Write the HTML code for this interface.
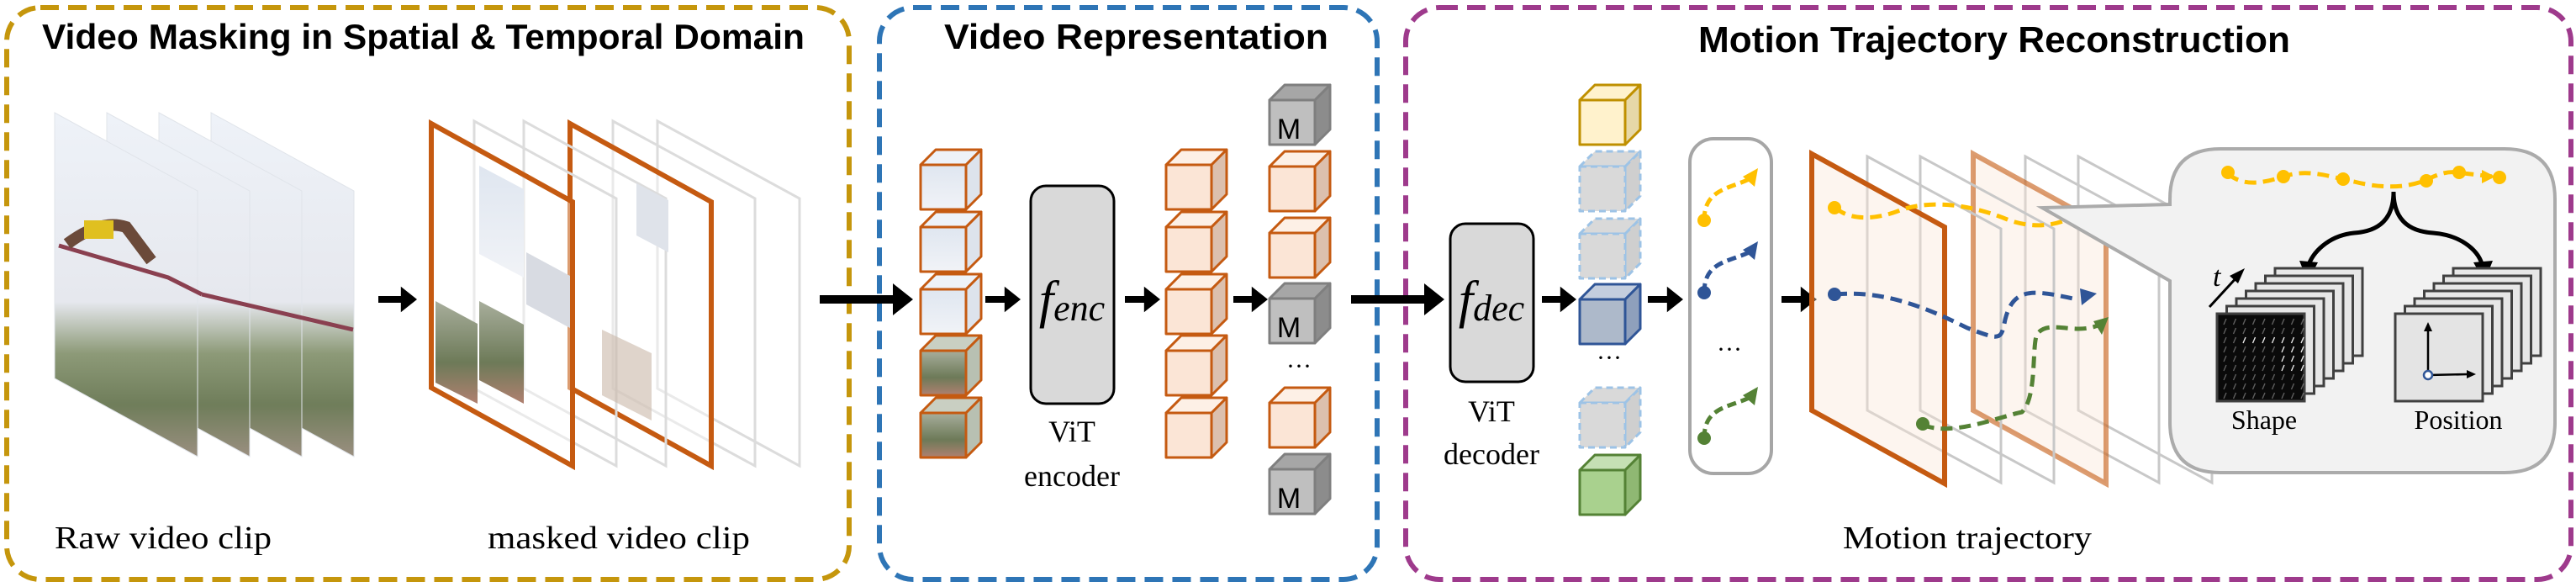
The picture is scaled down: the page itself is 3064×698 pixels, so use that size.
<!DOCTYPE html>
<html><head><meta charset="utf-8">
<style>
html,body{margin:0;padding:0;background:#fff;}
svg{display:block;}
.tt{font-family:"Liberation Sans Narrow","Liberation Sans",sans-serif;font-weight:bold;fill:#000;}
.sf{font-family:"Liberation Serif",serif;fill:#000;}
</style></head>
<body>
<svg id="s" width="3064" height="698" viewBox="0 0 3064 698" xmlns="http://www.w3.org/2000/svg">
<defs>
<linearGradient id="photo" x1="0" y1="0" x2="0" y2="1">
<stop offset="0" stop-color="#eef2f8"/><stop offset="0.55" stop-color="#e6e8ee"/>
<stop offset="0.7" stop-color="#8d9a78"/><stop offset="0.85" stop-color="#6f7d5a"/><stop offset="1" stop-color="#9a8f80"/>
</linearGradient>
<linearGradient id="sky" x1="0" y1="0" x2="0" y2="1"><stop offset="0" stop-color="#dfe6f0"/><stop offset="1" stop-color="#f1f3f7"/></linearGradient>
<linearGradient id="tree" x1="0" y1="0" x2="0" y2="1"><stop offset="0" stop-color="#a8ae9c"/><stop offset="0.6" stop-color="#6d7a58"/><stop offset="1" stop-color="#b08070"/></linearGradient>
</defs>

<!-- panels -->
<rect x="8" y="9" width="1002" height="680" rx="40" fill="none" stroke="#c5960c" stroke-width="6" stroke-dasharray="22,11"/>
<rect x="1046" y="9" width="592" height="680" rx="40" fill="none" stroke="#2e75b6" stroke-width="6" stroke-dasharray="22,11"/>
<rect x="1672" y="9" width="1386" height="680" rx="40" fill="none" stroke="#9e3a8c" stroke-width="6" stroke-dasharray="22,11"/>

<text class="tt" x="50" y="58" font-size="42" textLength="907" lengthAdjust="spacingAndGlyphs">Video Masking in Spatial &amp; Temporal Domain</text>
<text class="tt" x="1123" y="58" font-size="42" textLength="457" lengthAdjust="spacingAndGlyphs">Video Representation</text>
<text class="tt" x="2020" y="62" font-size="44" textLength="704" lengthAdjust="spacingAndGlyphs">Motion Trajectory Reconstruction</text>

<g id="g"></g>

<text class="sf" x="65" y="652" font-size="38" textLength="258" lengthAdjust="spacingAndGlyphs">Raw video clip</text>
<text class="sf" x="580" y="652" font-size="38" textLength="312" lengthAdjust="spacingAndGlyphs">masked video clip</text>
<text class="sf" x="2192" y="652" font-size="38" textLength="296" lengthAdjust="spacingAndGlyphs">Motion trajectory</text>

<text class="sf" x="1275" y="377" font-size="62" font-style="italic" text-anchor="middle">f<tspan font-size="44" dy="4">enc</tspan></text>
<text class="sf" x="1275" y="525" font-size="36" text-anchor="middle">ViT</text>
<text class="sf" x="1275" y="578" font-size="36" text-anchor="middle">encoder</text>
<text class="sf" x="1774" y="377" font-size="62" font-style="italic" text-anchor="middle">f<tspan font-size="44" dy="4">dec</tspan></text>
<text class="sf" x="1774" y="501" font-size="36" text-anchor="middle">ViT</text>
<text class="sf" x="1774" y="552" font-size="36" text-anchor="middle">decoder</text>

<text font-family="Liberation Sans,sans-serif" font-size="34" x="1533" y="165" text-anchor="middle">M</text>
<text font-family="Liberation Sans,sans-serif" font-size="34" x="1533" y="401" text-anchor="middle">M</text>
<text font-family="Liberation Sans,sans-serif" font-size="34" x="1533" y="604" text-anchor="middle">M</text>
<text class="sf" x="1545" y="445" font-size="30" text-anchor="middle">···</text>
<text class="sf" x="1914" y="435" font-size="30" text-anchor="middle">···</text>
<text class="sf" x="2057" y="425" font-size="30" text-anchor="middle">···</text>

<text class="sf" x="2693" y="510" font-size="32" text-anchor="middle">Shape</text>
<text class="sf" x="2924" y="510" font-size="32" text-anchor="middle">Position</text>
<text class="sf" x="2632" y="340" font-size="34" font-style="italic">t</text>
</svg>
<script>
var NS="http://www.w3.org/2000/svg",G=document.getElementById('g');
function el(t,a,p){var e=document.createElementNS(NS,t);for(var k in a)e.setAttribute(k,a[k]);(p||G).appendChild(e);return e;}
function poly(pts,a){a.points=pts.map(function(p){return p.join(',')}).join(' ');return el('polygon',a);}
function frame(xl,w,yt,yr,h,a){return poly([[xl,yt],[xl+w,yr],[xl+w,yr+h],[xl,yt+h]],a);}
function arrow(x1,x2,y,th){th=th||9;el('line',{x1:x1,y1:y,x2:x2-th*1.4,y2:y,stroke:'#000','stroke-width':th});
 poly([[x2-th*2.4,y-th*1.9],[x2,y],[x2-th*2.4,y+th*1.9]],{fill:'#000'});}

// raw frames (back to front)
[251,189,127,65].forEach(function(x,i){
 var p=frame(x,170,134,227,316,{fill:'url(#photo)',stroke:'#e0e4ea','stroke-width':1});
});
// silhouette hints
el('path',{d:'M70 292 L200 330 L240 350',stroke:'#8a4050','stroke-width':5,fill:'none'});
el('path',{d:'M240 350 L420 392',stroke:'#8a4050','stroke-width':5,fill:'none'});
el('path',{d:'M80 290 Q120 260 150 270 L180 310',stroke:'#6b4a3a','stroke-width':14,fill:'none'});
el('rect',{x:100,y:262,width:35,height:22,fill:'#e0c020'});

arrow(450,496,356,8);

// masked frames
[[782,0],[729,0],[678,1],[623,0],[564,0],[513,1]].forEach(function(f){
 if(f[1]) frame(f[0],168,147,240,314,{fill:'#fff','fill-opacity':0.4,stroke:'#c55a11','stroke-width':6});
 else frame(f[0],169,144,236,318,{fill:'none',stroke:'#dcdcdc','stroke-width':3});
});
// some visible patches
poly([[570,197],[623,225],[623,330],[570,302]],{fill:'url(#sky)'});
poly([[570,358],[623,386],[623,480],[570,452]],{fill:'url(#tree)'});
poly([[518,358],[568,385],[568,480],[518,455]],{fill:'url(#tree)'});
poly([[626,300],[678,328],[678,390],[626,362]],{fill:'#d8dbe2'});
poly([[757,218],[795,238],[795,300],[757,280]],{fill:'#dfe3ea'});
poly([[716,392],[775,420],[775,500],[716,470]],{fill:'#c9b7a8','fill-opacity':0.6});

arrow(975,1086,356,10);

function cube(x,y,c){ // total 72x71, d=18
 var d=18,w=54,h=53,s=c.s,sw=3;
 var a={stroke:s,'stroke-width':sw,'stroke-linejoin':'round'};
 if(c.dash)a['stroke-dasharray']='8,5';
 var o=JSON.parse(JSON.stringify(a));
 o.fill=c.top;poly([[x,y+d],[x+d,y],[x+d+w,y],[x+w,y+d]],o);
 o=JSON.parse(JSON.stringify(a));o.fill=c.side;poly([[x+w,y+d],[x+d+w,y],[x+d+w,y+h],[x+w,y+d+h]],o);
 o=JSON.parse(JSON.stringify(a));o.fill=c.front;el('rect',Object.assign({x:x,y:y+d,width:w,height:h},o));
}
var OR={s:'#c55a11',top:'#fdf0e6',side:'#dcc0ae',front:'#fbe5d6'};
var MG={s:'#7f7f7f',top:'#a6a6a6',side:'#8c8c8c',front:'#bfbfbf'};
var PH={s:'#c55a11',top:'#eef2f8',side:'#dde3ec',front:'url(#sky)'};
var PT={s:'#c55a11',top:'#c9cfc2',side:'#b8c0b2',front:'url(#tree)'};
var YE={s:'#bf9000',top:'#fff2cc',side:'#e6d8a8',front:'#fff2cc'};
var DS={s:'#9dc3e6',top:'#d9d9d9',side:'#cfcfcf',front:'#d9d9d9',dash:1};
var BL={s:'#2f5597',top:'#c4cede',side:'#8fa0bc',front:'#adb9ca'};
var GR={s:'#548235',top:'#c5e0b4',side:'#8fb873',front:'#a9d18e'};
var rows=[178,252,326,399,473];
rows.forEach(function(y,i){cube(1095,y,i<3?PH:PT);});
arrow(1172,1214,356,8);
el('rect',{x:1226,y:221,width:99,height:259,rx:18,fill:'#d9d9d9',stroke:'#000','stroke-width':3});
arrow(1338,1380,356,8);
rows.forEach(function(y){cube(1387,y,OR);});
arrow(1467,1508,356,8);
[[101,MG],[180,OR],[259,OR],[337,MG],[461,OR],[540,MG]].forEach(function(r){cube(1510,r[0],r[1]);});
arrow(1607,1718,356,10);
el('rect',{x:1725,y:266,width:99,height:188,rx:18,fill:'#d9d9d9',stroke:'#000','stroke-width':3});
arrow(1834,1875,356,8);
[[101,YE],[180,DS],[260,DS],[338,BL],[461,DS],[541,GR]].forEach(function(r){cube(1879,r[0],r[1]);});
arrow(1960,2002,356,8);

// trajectory box
el('rect',{x:2010,y:165,width:97,height:398,rx:28,fill:'#fff',stroke:'#a6a6a6','stroke-width':4});
function traj(x1,y1,x2,y2,col){
 el('path',{d:'M'+x1+' '+y1+' C'+x1+' '+(y1-40)+' '+(x2-30)+' '+(y2+25)+' '+(x2-5)+' '+(y2+10),stroke:col,'stroke-width':5,fill:'none','stroke-dasharray':'11,6'});
 el('circle',{cx:x1,cy:y1,r:8,fill:col});
 poly([[x2,y2],[x2-4,y2+22],[x2-18,y2+10]],{fill:col});
}
traj(2027,262,2091,200,'#ffc000');
traj(2027,348,2091,287,'#2f5597');
traj(2027,521,2091,460,'#548235');
arrow(2119,2161,356,8);

// trajectory frames back to front
[[2472,0],[2409,0],[2347,1],[2284,0],[2221,0],[2155,1]].forEach(function(f){
 if(f[1]) frame(f[0],158,183,270,305,{fill:'#fbe5d6','fill-opacity':0.4,stroke:'#c55a11','stroke-width':6,'stroke-opacity':f[0]==2347?0.6:1});
 else frame(f[0],159,186,272,302,{fill:'none',stroke:'#c8c8c8','stroke-width':3});
});
function dashp(d,col){el('path',{d:d,stroke:col,'stroke-width':5,fill:'none','stroke-dasharray':'14,8'});}
dashp('M2183 247 C2200 262 2230 262 2260 250 C2300 236 2350 245 2390 262 C2420 272 2450 270 2480 250','#ffc000');
el('circle',{cx:2182,cy:247,r:8,fill:'#ffc000'});
dashp('M2183 350 C2240 345 2290 365 2340 390 C2380 405 2380 405 2385 380 C2395 340 2420 345 2470 356','#2f5597');
el('circle',{cx:2182,cy:350,r:8,fill:'#2f5597'});
poly([[2494,349],[2474,343],[2476,363]],{fill:'#2f5597'});
dashp('M2287 505 C2320 520 2380 495 2405 490 C2425 470 2415 400 2425 395 C2440 380 2470 400 2500 385','#548235');
el('circle',{cx:2287,cy:504,r:8,fill:'#548235'});
poly([[2508,377],[2490,382],[2500,398]],{fill:'#548235'});

// callout
el('path',{d:'M2581 243 L2581 237 Q2581 177 2641 177 L2979 177 Q3039 177 3039 237 L3039 502 Q3039 562 2979 562 L2641 562 Q2581 562 2581 502 L2581 334 L2429 247 Z',fill:'#f2f2f2',stroke:'#ababab','stroke-width':4,'stroke-linejoin':'miter'});
dashp('M2650 207 C2670 222 2690 218 2716 210 C2745 200 2770 210 2800 216 C2840 226 2870 222 2890 212 C2905 205 2915 203 2930 206 L2965 210','#ffc000');
[[2650,205],[2716,210],[2787,213],[2886,215],[2925,205],[2973,211]].forEach(function(p){el('circle',{cx:p[0],cy:p[1],r:8,fill:'#ffc000'});});
poly([[2968,210],[2952,202],[2952,218]],{fill:'#ffc000'});
// brace arrows
el('path',{d:'M2847 228 C2847 260 2830 275 2800 277 C2770 280 2750 300 2745 318',stroke:'#000','stroke-width':5,fill:'none'});
el('path',{d:'M2847 228 C2847 260 2864 275 2894 277 C2930 280 2950 300 2953 318',stroke:'#000','stroke-width':5,fill:'none'});
poly([[2735,310],[2745,335],[2757,312]],{fill:'#000'});
poly([[2942,312],[2955,335],[2965,310]],{fill:'#000'});
// stacks
function stack(x0,shape){
 for(var i=6;i>=1;i--){el('rect',{x:x0+i*11.5,y:373-i*9,width:104,height:104,fill:'#e7e7e7',stroke:'#404040','stroke-width':3});}
 el('rect',{x:x0,y:373,width:104,height:104,fill:shape?'#0a0a0a':'#e4e4e4',stroke:'#404040','stroke-width':3});
}
stack(2637,1);stack(2849,0);
for(var r=0;r<9;r++)for(var c=0;c<9;c++){var xx=2642+c*11.5,yy=378+r*11;
 el('line',{x1:xx+3,y1:yy+8,x2:xx+6,y2:yy+1,stroke:'#fff','stroke-width':1.4,'stroke-opacity':(r>1&&r<6&&c>5)||(r==2&&c>1)?0.9:0.35});}
el('line',{x1:2888,y1:446,x2:2888,y2:392,stroke:'#000','stroke-width':2.5});
poly([[2883,394],[2888,383],[2893,394]],{fill:'#000'});
el('line',{x1:2888,y1:446,x2:2936,y2:445,stroke:'#000','stroke-width':2.5});
poly([[2934,440],[2945,445],[2934,450]],{fill:'#000'});
el('circle',{cx:2888,cy:446,r:5,fill:'#fff',stroke:'#2f5597','stroke-width':2.5});
el('line',{x1:2628,y1:365,x2:2663,y2:327,stroke:'#000','stroke-width':3});
poly([[2670,319],[2652,328],[2662,337]],{fill:'#000'});
</script>
</body></html>
